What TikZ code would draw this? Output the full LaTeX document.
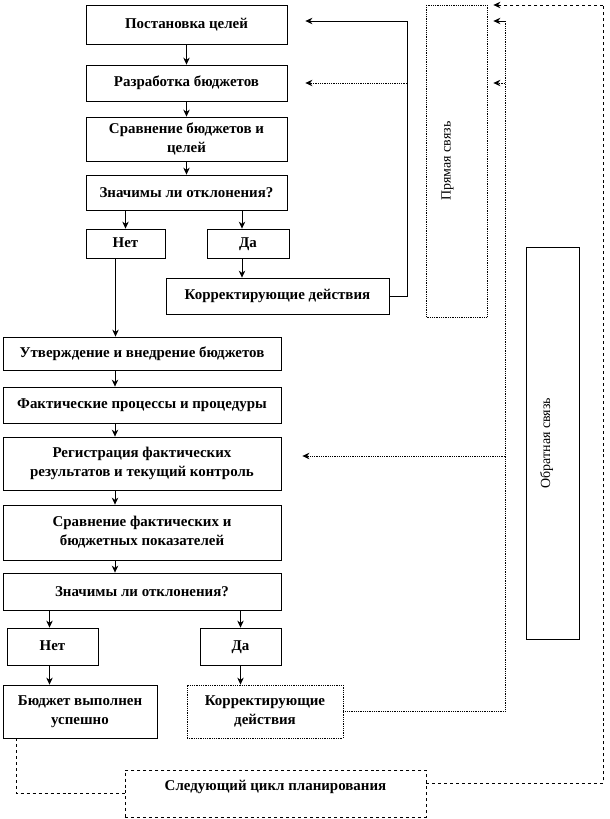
\documentclass[tikz,border=0pt]{standalone}
\usepackage{fontspec}
\setmainfont{Liberation Serif}
\usepackage{tikz}
\usetikzlibrary{positioning, arrows.meta}

\begin{document}
\begin{tikzpicture}[x=1bp, y=-1bp, line width=0.8bp,
    box/.style={draw, inner sep=2pt, align=center, font=\bfseries\fontsize{15}{19}\selectfont},
    word/.style={box, text height=10bp, text depth=3bp},
    side/.style={draw, rotate=90, inner sep=2pt, font=\fontsize{14}{16}\selectfont},
    go/.style={-{Stealth[length=7bp, width=6.5bp]}},
    dotlink/.style={densely dotted},
    dashlink/.style={dashed}]
    \useasboundingbox (0,0) rectangle (610,819);

    % planning part
    \node[box, minimum width=201bp, minimum height=39bp] (goal) at (186.5,24.5) {Постановка целей};
    \node[box, minimum width=201bp, minimum height=36bp] (draft) at (186.5,83) {Разработка бюджетов};
    \node[box, minimum width=201bp, minimum height=44bp] (check) at (186.5,139) {Сравнение бюджетов и\\целей};
    \node[box, minimum width=201bp, minimum height=35bp] (dev1) at (186.5,192.5) {Значимы ли отклонения?};
    \node[word, minimum width=79bp, minimum height=29bp] (no1) at (125.5,243.5) {Нет};
    \node[word, minimum width=82bp, minimum height=29bp] (yes1) at (248,243.5) {Да};
    \node[box, minimum width=223bp, minimum height=36bp] (fix1) at (277.5,296) {Корректирующие действия};

    % control part
    \node[box, minimum width=278bp, minimum height=33bp] (accept) at (142,353.5) {Утверждение и внедрение бюджетов};
    \node[box, minimum width=278bp, minimum height=36bp] (proc) at (142,405) {Фактические процессы и процедуры};
    \node[box, minimum width=278bp, minimum height=53bp] (record) at (142,463.5) {Регистрация фактических\\результатов и текущий контроль};
    \node[box, minimum width=278bp, minimum height=55bp] (compare) at (142,532.5) {Сравнение фактических и\\бюджетных показателей};
    \node[box, minimum width=278bp, minimum height=37bp] (dev2) at (142,591.5) {Значимы ли отклонения?};
    \node[word, minimum width=91bp, minimum height=37bp] (no2) at (52.5,646.5) {Нет};
    \node[word, minimum width=81bp, minimum height=37bp] (yes2) at (240.5,646.5) {Да};
    \node[box, minimum width=154bp, minimum height=53bp] (done) at (80,711.5) {Бюджет выполнен\\успешно};
    \node[box, densely dotted, minimum width=156bp, minimum height=53bp] (fix2) at (265,711.5) {Корректирующие\\действия};
    \node[box, dashed, minimum width=301bp, minimum height=47bp, text height=10bp, text depth=17bp] (next) at (275.5,793.5) {Следующий цикл планирования};

    % side boxes
    \node[side, densely dotted, minimum width=312bp, minimum height=61bp, text height=10bp, text depth=22bp] (direct) at (456.5,161) {Прямая связь};
    \node[side, minimum width=392bp, minimum height=53bp, text height=10bp, text depth=15bp] (back) at (552.5,443) {Обратная связь};

    \coordinate (fwd) at (407,21);
    \coordinate (ret) at (505,21);
    \coordinate (rec) at (505,456);
    \coordinate (outer) at (603,5);
    \coordinate (outb) at (603,783);
    \coordinate (low) at (16,793.5);

    \draw[go] (goal) -- (draft);
    \draw[go] (draft) -- (check);
    \draw[go] (check) -- (dev1);
    \draw[go] (dev1.south -| no1) -- (no1);
    \draw[go] ([xshift=-6bp]dev1.south -| yes1) -- ([xshift=-6bp]yes1.north);
    \draw[go] ([xshift=-6bp]yes1.south) -- ([xshift=-6bp]yes1.south |- fix1.north);
    \draw[go] ([xshift=-10bp]no1.south) -- ([xshift=-10bp]no1.south |- accept.north);

    \draw[go] ([xshift=-27bp]accept.south) -- ([xshift=-27bp]proc.north);
    \draw[go] ([xshift=-27bp]proc.south) -- ([xshift=-27bp]record.north);
    \draw[go] ([xshift=-27bp]record.south) -- ([xshift=-27bp]compare.north);
    \draw[go] ([xshift=-27bp]compare.south) -- ([xshift=-27bp]dev2.north);
    \draw[go] ([xshift=-3bp]dev2.south -| no2) -- ([xshift=-3bp]no2.north);
    \draw[go] (dev2.south -| yes2) -- (yes2);
    \draw[go] ([xshift=-3bp]no2.south) -- ([xshift=-3bp]no2.south |- done.north);
    \draw[go] (yes2) -- (yes2 |- fix2.north);

    % forward link
    \draw (fix1) -- (fix1 -| fwd) -- (fwd);
    \draw[go, shorten >=18bp] (fwd) -- (fwd -| goal.east);
    \draw[go, dotlink, shorten >=18bp] (fwd |- draft) -- (draft);

    % feedback
    \draw[dotlink] (fix2) -- (fix2 -| ret) -- (ret);
    \draw[go, shorten >=6bp] (ret) -- (ret -| direct.south);
    \draw[go, dotlink, shorten >=6bp] (ret |- draft) -- (direct.south |- draft);
    \draw[go, dotlink, shorten >=21bp] (rec) -- (rec -| record.east);

    % next cycle
    \draw[dashlink] (done.south -| low) -- (low) -- (next);
    \draw[dashlink] (outb -| next.east) -- (outb) -- (outer);
    \draw[go, dashlink, shorten >=6bp] (outer) -- (outer -| direct.south);
\end{tikzpicture}
\end{document}
